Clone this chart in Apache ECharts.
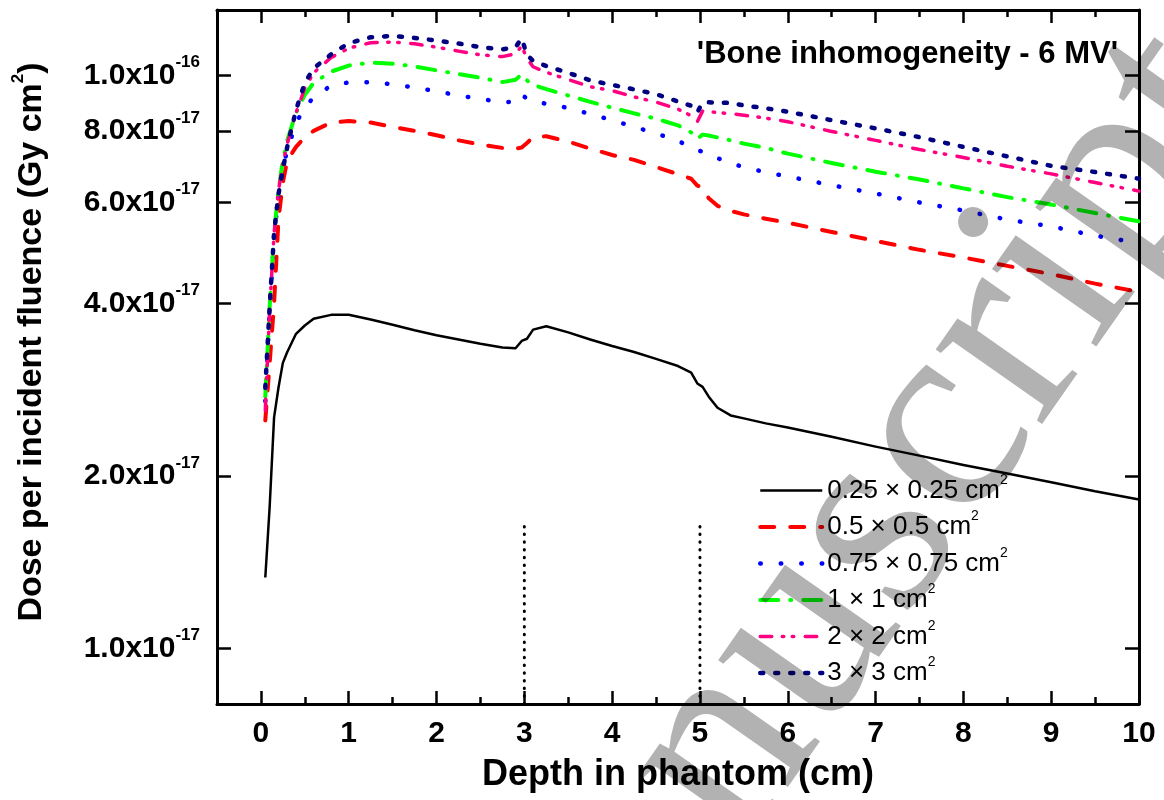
<!DOCTYPE html>
<html>
<head>
<meta charset="utf-8">
<title>Bone inhomogeneity - 6 MV</title>
<script src="https://cdn.jsdelivr.net/npm/echarts@6/dist/echarts.min.js"></script>
<style>
  html, body { margin: 0; padding: 0; background: #ffffff; }
  #chart { width: 1164px; height: 800px; }
</style>
</head>
<body>
<div id="chart"></div>
<script>
// Depth in phantom (cm) shared by every curve
const depth = [0.05, 0.1, 0.15, 0.2, 0.25, 0.3, 0.4, 0.5, 0.6, 0.8,
  1.0, 1.25, 1.5, 1.75, 2.0, 2.25, 2.5, 2.75, 2.9, 2.97,
  3.03, 3.1, 3.25, 3.5, 3.75, 4.0, 4.25, 4.5, 4.75, 4.9,
  4.97, 5.03, 5.1, 5.2, 5.35, 5.5, 5.75, 6.0, 6.5, 7.0,
  7.5, 8.0, 8.5, 9.0, 9.5, 10.0];

// Dose per incident fluence, in units of 1e-17 Gy cm^2, one array per field size
const dose025 = [1.33, 1.77, 2.53, 2.85, 3.15, 3.29, 3.54, 3.66, 3.76, 3.82,
  3.82, 3.75, 3.67, 3.59, 3.52, 3.46, 3.40, 3.35, 3.34, 3.44,
  3.47, 3.60, 3.65, 3.56, 3.46, 3.37, 3.29, 3.20, 3.11, 3.03,
  2.90, 2.86, 2.75, 2.63, 2.55, 2.52, 2.47, 2.43, 2.34, 2.25,
  2.17, 2.09, 2.02, 1.95, 1.88, 1.82];
const dose05 = [2.5, 3.15, 4.0, 5.6, 6.5, 7.1, 7.5, 7.8, 8.0, 8.27,
  8.32, 8.27, 8.13, 8.0, 7.86, 7.7, 7.57, 7.47, 7.45, 7.48,
  7.62, 7.8, 7.83, 7.66, 7.45, 7.26, 7.12, 6.92, 6.72, 6.6,
  6.42, 6.38, 6.1, 5.92, 5.8, 5.72, 5.62, 5.53, 5.33, 5.14,
  4.96, 4.81, 4.65, 4.5, 4.33, 4.19];
const dose075 = [2.7, 3.9, 5.2, 6.2, 6.9, 7.4, 8.25, 8.8, 9.15, 9.6,
  9.72, 9.73, 9.65, 9.52, 9.38, 9.22, 9.1, 8.97, 9.0, 9.26,
  9.1, 9.0, 8.92, 8.77, 8.56, 8.35, 8.13, 7.92, 7.68, 7.5,
  7.4, 7.36, 7.3, 7.17, 7.02, 6.92, 6.77, 6.66, 6.43, 6.22,
  6.0, 5.81, 5.6, 5.45, 5.25, 5.1];
const dose1 = [2.75, 3.95, 5.3, 6.3, 7.1, 7.7, 8.6, 9.25, 9.7, 10.15,
  10.4, 10.52, 10.48, 10.36, 10.2, 10.05, 9.9, 9.73, 9.82, 10.04,
  9.8, 9.62, 9.46, 9.22, 8.99, 8.78, 8.58, 8.4, 8.18, 7.95,
  7.75, 7.88, 7.85, 7.79, 7.7, 7.6, 7.47, 7.3, 7.03, 6.79,
  6.58, 6.35, 6.13, 5.95, 5.75, 5.56];
const dose2 = [2.6, 3.9, 5.3, 6.3, 7.0, 7.6, 8.6, 9.5, 10.1, 10.74,
  11.15, 11.4, 11.43, 11.35, 11.2, 11.02, 10.86, 10.78, 10.9, 11.25,
  10.7, 10.35, 10.12, 9.83, 9.55, 9.4, 9.17, 8.98, 8.73, 8.5,
  8.3, 8.66, 8.64, 8.61, 8.57, 8.52, 8.42, 8.3, 7.98, 7.7,
  7.42, 7.19, 6.94, 6.73, 6.5, 6.28];
const dose3 = [2.85, 3.95, 5.3, 6.2, 6.85, 7.5, 8.7, 9.7, 10.28, 10.88,
  11.38, 11.65, 11.72, 11.62, 11.5, 11.36, 11.2, 11.1, 11.2, 11.6,
  10.85, 10.6, 10.38, 10.1, 9.8, 9.62, 9.45, 9.27, 9.0, 8.85,
  8.62, 8.96, 8.97, 8.96, 8.95, 8.86, 8.76, 8.64, 8.35, 8.08,
  7.8, 7.5, 7.22, 6.95, 6.78, 6.6];

const fieldSizes = ['0.25 × 0.25 cm²', '0.5 × 0.5 cm²', '0.75 × 0.75 cm²',
  '1 × 1 cm²', '2 × 2 cm²', '3 × 3 cm²'];

// Bone slab boundaries (cm) and the height of their dotted markers (1e-17 Gy cm^2)
const boneEdges = [3, 5];
const boneMarkerRange = [0.8, 1.66];

// Axis ticks
const depthTicks = [0, 1, 2, 3, 4, 5, 6, 7, 8, 9, 10];
const doseTicks = [1, 2, 4, 6, 8, 10];

const SANS = '"Liberation Sans", Arial, Helvetica, sans-serif';
const SERIF = '"Liberation Serif", "Times New Roman", Times, serif';

const depthMinor = depthTicks.slice(0, -1).map(t => t + 0.5);

function doseLabel(v) {
  const exp = v >= 9.99 ? -16 : -17;
  const m = (v / Math.pow(10, exp + 17)).toFixed(1);
  return '{m|' + m + 'x10}{e|' + exp + '}';
}

const styles = [
  { values: dose025, color: '#000000', width: 2.5, type: 'solid', cap: 'butt' },
  { values: dose05, color: '#ff0000', width: 4, type: [14, 16], cap: 'round' },
  { values: dose075, color: '#0000ff', width: 4.5, type: [0.5, 20], cap: 'round' },
  { values: dose1, color: '#00ff00', width: 4, type: [18, 12, 1, 12], cap: 'round' },
  { values: dose2, color: '#ff0080', width: 3.5, type: [11.5, 10.5, 1.5, 8.5, 1.5, 11.5], cap: 'round' },
  { values: dose3, color: '#000080', width: 4.5, type: [3, 12], cap: 'round' }
];

const series = styles.map((s, k) => ({
  type: 'line',
  name: fieldSizes[k],
  xAxisIndex: 0,
  yAxisIndex: 0,
  data: depth.map((d, i) => [d, s.values[i]]),
  symbol: 'none',
  showSymbol: false,
  color: s.color,
  lineStyle: { color: s.color, width: s.width, type: s.type, cap: s.cap, join: 'round' },
  itemStyle: { color: s.color },
  z: 3 + k
}));

boneEdges.forEach((x, k) => {
  series.push({
    type: 'line',
    name: 'bone-edge-' + k,
    xAxisIndex: 0,
    yAxisIndex: 0,
    silent: true,
    symbol: 'none',
    data: boneMarkerRange.map(v => [x, v]),
    lineStyle: { color: '#000000', width: 3, type: [0.5, 7.2], cap: 'round' },
    z: 2
  });
});

const tickLine = { color: '#000000', width: 2.5 };
const frameLine = { color: '#000000', width: 3 };

const option = {
  animation: false,
  backgroundColor: '#ffffff',
  title: {
    text: "'Bone inhomogeneity - 6 MV'",
    right: 46,
    top: 39,
    padding: 0,
    textStyle: { fontSize: 31, fontWeight: 'bold', color: '#000000', fontFamily: SANS }
  },
  grid: { left: 217, right: 25, top: 10, bottom: 96, containLabel: false },
  legend: {
    data: fieldSizes,
    orient: 'vertical',
    left: 758,
    top: 473,
    padding: 0,
    itemWidth: 62,
    itemHeight: 14,
    itemGap: 6,
    selectedMode: false,
    itemStyle: { opacity: 0 },
    lineStyle: { width: 'inherit' },
    formatter: name => '{t|' + name.replace('²', '') + '}{s|2}',
    textStyle: {
      fontSize: 26,
      color: '#000000',
      fontFamily: SANS,
      rich: {
        t: { fontSize: 26, color: '#000000', fontFamily: SANS },
        s: { fontSize: 14, color: '#000000', fontFamily: SANS, padding: [0, 0, 21, 0] }
      }
    }
  },
  xAxis: [
    {
      type: 'value', position: 'bottom', min: -0.5, max: 10,
      axisLine: { show: true, onZero: false, lineStyle: frameLine },
      axisTick: { show: true, inside: true, length: 13, customValues: depthTicks, lineStyle: tickLine },
      axisLabel: { show: true, customValues: depthTicks, margin: 15, fontSize: 30, fontWeight: 'bold', color: '#000000', fontFamily: SANS },
      splitLine: { show: false },
      name: 'Depth in phantom (cm)',
      nameLocation: 'middle',
      nameGap: 53,
      nameTextStyle: { fontSize: 36, fontWeight: 'bold', color: '#000000', fontFamily: SANS }
    },
    {
      type: 'value', position: 'bottom', min: -0.5, max: 10,
      axisLine: { show: false, onZero: false },
      axisTick: { show: true, inside: true, length: 7, customValues: depthMinor, lineStyle: tickLine },
      axisLabel: { show: false },
      splitLine: { show: false }
    },
    {
      type: 'value', position: 'top', min: -0.5, max: 10,
      axisLine: { show: true, onZero: false, lineStyle: frameLine },
      axisTick: { show: true, inside: true, length: 13, customValues: depthTicks, lineStyle: tickLine },
      axisLabel: { show: false },
      splitLine: { show: false }
    },
    {
      type: 'value', position: 'top', min: -0.5, max: 10,
      axisLine: { show: false, onZero: false },
      axisTick: { show: true, inside: true, length: 7, customValues: depthMinor, lineStyle: tickLine },
      axisLabel: { show: false },
      splitLine: { show: false }
    }
  ],
  yAxis: [
    {
      type: 'log', logBase: 10, position: 'left', min: 0.8, max: 13,
      axisLine: { show: true, onZero: false, lineStyle: frameLine },
      axisTick: { show: true, inside: true, length: 14, customValues: doseTicks, lineStyle: tickLine },
      minorTick: { show: false },
      axisLabel: {
        show: true,
        customValues: doseTicks,
        margin: 17,
        formatter: doseLabel,
        color: '#000000',
        fontSize: 30,
        fontWeight: 'bold',
        fontFamily: SANS,
        rich: {
          m: { fontSize: 30, fontWeight: 'bold', color: '#000000', fontFamily: SANS },
          e: { fontSize: 17, fontWeight: 'bold', color: '#000000', fontFamily: SANS, padding: [0, 0, 26, 0] }
        }
      },
      splitLine: { show: false }
    },
    {
      type: 'log', logBase: 10, position: 'right', min: 0.8, max: 13,
      axisLine: { show: true, onZero: false, lineStyle: frameLine },
      axisTick: { show: true, inside: true, length: 14, customValues: doseTicks, lineStyle: tickLine },
      minorTick: { show: false },
      axisLabel: { show: false },
      splitLine: { show: false }
    }
  ],
  graphic: [
    {
      type: 'text',
      x: 32,
      y: 342,
      rotation: Math.PI / 2,
      silent: true,
      style: {
        text: '{a|Dose per incident fluence (Gy cm}{s|2}{a|)}',
        align: 'center',
        verticalAlign: 'middle',
        fill: '#000000',
        fontSize: 34,
        fontWeight: 'bold',
        fontFamily: SANS,
        rich: {
          a: { fontSize: 34, fontWeight: 'bold', fontFamily: SANS, fill: '#000000' },
          s: { fontSize: 17, fontWeight: 'bold', fontFamily: SANS, fill: '#000000', padding: [0, 0, 28, 0] }
        }
      }
    },
    {
      // diagonal grey stamp running across the plot
      type: 'text',
      x: 464,
      y: 1120,
      rotation: 55 * Math.PI / 180,
      silent: true,
      z: 100,
      style: {
        text: 'Manuscript',
        align: 'left',
        verticalAlign: 'middle',
        fontSize: 283,
        fontFamily: SERIF,
        fill: 'rgba(0,0,0,0.3)'
      }
    }
  ],
  series: series
};

const chart = echarts.init(document.getElementById('chart'), null, { renderer: 'canvas' });
chart.setOption(option);
</script>
</body>
</html>
